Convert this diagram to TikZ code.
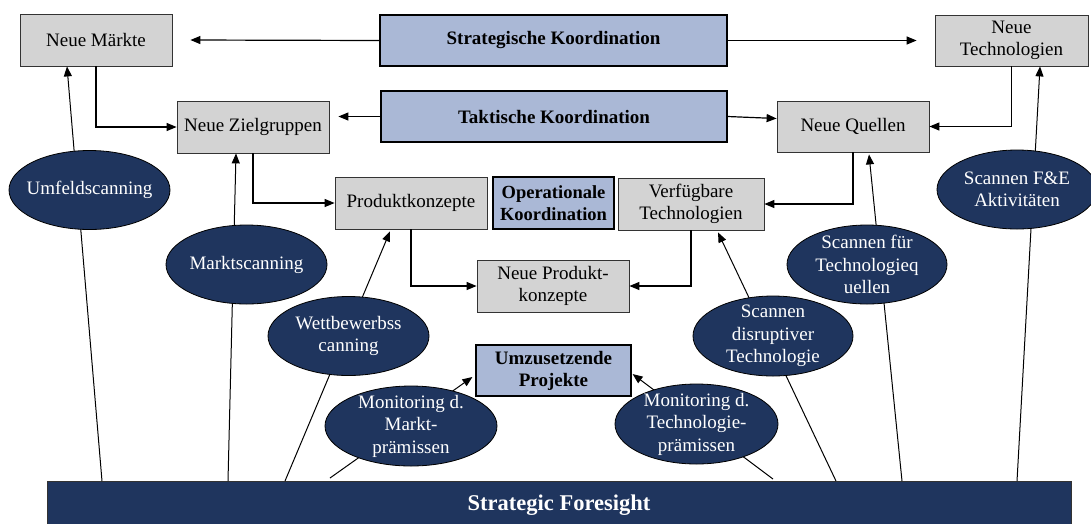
\documentclass[tikz,border=0pt]{standalone}
\usepackage{fontspec}
\setmainfont{Liberation Serif}
\usetikzlibrary{shapes.geometric, arrows.meta, positioning}

\definecolor{navy}{RGB}{31,53,94}
\definecolor{koordblau}{RGB}{170,184,214}
\definecolor{feldgrau}{RGB}{211,211,211}

\begin{document}
\begin{tikzpicture}[x=1pt, y=-1pt, >={Triangle[length=10pt,width=8pt]},
  font=\fontsize{19}{22}\selectfont,
  box/.style={draw=black!80, line width=0.8pt, fill=feldgrau, align=center,
    minimum width=152pt, minimum height=52pt, inner sep=2pt},
  koord/.style={box, fill=koordblau, draw=black, line width=1.2pt,
    font=\fontsize{19}{22}\selectfont\bfseries},
  scan/.style={ellipse, draw=black, line width=0.8pt, fill=navy, text=white,
    align=center, minimum width=161pt, minimum height=79pt, inner sep=-12pt,
    font=\fontsize{19}{22.5}\selectfont},
  link/.style={->, line width=1.2pt},
  feed/.style={->, line width=1pt}]
\useasboundingbox (0,0) rectangle (1091,523);
%
% Koordinationsebenen
\node[koord, minimum width=347pt, minimum height=51pt] (sk) at (553.5,40.5) {Strategische Koordination};
\node[koord, minimum width=346pt, minimum height=51pt] (tk) at (554,116.5) {Taktische Koordination};
\node[koord, minimum width=121pt, inner sep=0pt, font=\fontsize{18.5}{22}\selectfont\bfseries] (ok) at (553.5,203) {Operationale\\Koordination};
\node[koord, minimum width=155pt, minimum height=51pt] (pu) at (553.5,370.5) {Umzusetzende\\Projekte};
%
% Markt- und Technologieseite
\node[box] (nm) at (96,40) {Neue M\"arkte};
\node[box, minimum width=153pt, minimum height=51pt] (nt) at (1011.5,40.5) {Neue\\Technologien};
\node[box] (nz) at (253,127) {Neue Zielgruppen};
\node[box, minimum height=51pt] (nq) at (853,126.5) {Neue Quellen};
\node[box] (pk) at (411,203) {Produktkonzepte};
\node[box, minimum width=146pt] (vt) at (691,204) {Verf\"ugbare\\Technologien};
\node[box] (np) at (553,286) {Neue Produkt-\\konzepte};
%
\node[draw=black!80, line width=0.8pt, fill=navy, text=white, font=\fontsize{22.5}{26}\selectfont\bfseries,
  minimum width=1024pt, minimum height=48pt] (sf) at (559,505) {Strategic Foresight};
%
\draw[link] (sk.west) -- ([xshift=18pt]nm.east);
\draw[link] (sk.east) -- ([xshift=-18pt]nt.west);
\draw[link] (tk.west) -- ([xshift=9pt]nz.east |- tk.west);
\draw[link] (tk.east) -- ([yshift=8pt]nq.west);
\draw[link] (nm) |- (nz);
\draw[link] (nt) |- (nq);
\draw[link] (nz) |- (pk);
\draw[link] (nq) |- (vt);
\draw[link] (pk) |- (np);
\draw[link] (vt) |- (np);
%
% Scanning vom Strategic Foresight aus
\coordinate (f1) at (102,481);
\coordinate (f2) at (228,481);
\coordinate (f3) at (285,481);
\coordinate (f4) at (330,478);
\coordinate (f5) at (773,479);
\coordinate (f6) at (836,481);
\coordinate (f7) at (902,481);
\coordinate (f8) at (1017,481);
\draw[feed] (f1) -- ([xshift=-29pt]nm.south);
\draw[feed] (f2) -- ([xshift=-17pt]nz.south);
\draw[feed] (f3) -- ([xshift=-21pt,yshift=-2pt]pk.south);
\draw[feed] (f4) -- ([xshift=-3pt,yshift=-6.5pt]pu.west);
\draw[feed] (f5) -- ([xshift=1pt,yshift=-3.5pt]pu.east);
\draw[feed] (f6) -- ([xshift=27pt,yshift=-2pt]vt.south);
\draw[feed] (f7) -- ([xshift=16pt,yshift=-2pt]nq.south);
\draw[feed] (f8) -- ([xshift=28.5pt]nt.south);
%
\node[scan] (uf) at (89.5,190) {Umfeldscanning};
\node[scan] (ms) at (246.5,264.5) {Marktscanning};
\node[scan] (wb) at (348.5,336) {Wettbewerbss\\canning};
\node[scan, minimum width=172pt, minimum height=80pt] (mm) at (411,426) {Monitoring d.\\Markt-\\pr\"amissen};
\node[scan, minimum width=163pt, minimum height=80pt] (mt) at (696.5,424) {Monitoring d.\\Technologie-\\pr\"amissen};
\node[scan, minimum width=160pt, minimum height=80pt] (sd) at (773,336) {Scannen\\disruptiver\\Technologie};
\node[scan, minimum width=160pt] (sq) at (867,264.5) {Scannen f\"ur\\Technologieq\\uellen};
\node[scan, minimum width=160pt] (fe) at (1017,189.5) {Scannen F\&E\\Aktivit\"aten};
\end{tikzpicture}
\end{document}
